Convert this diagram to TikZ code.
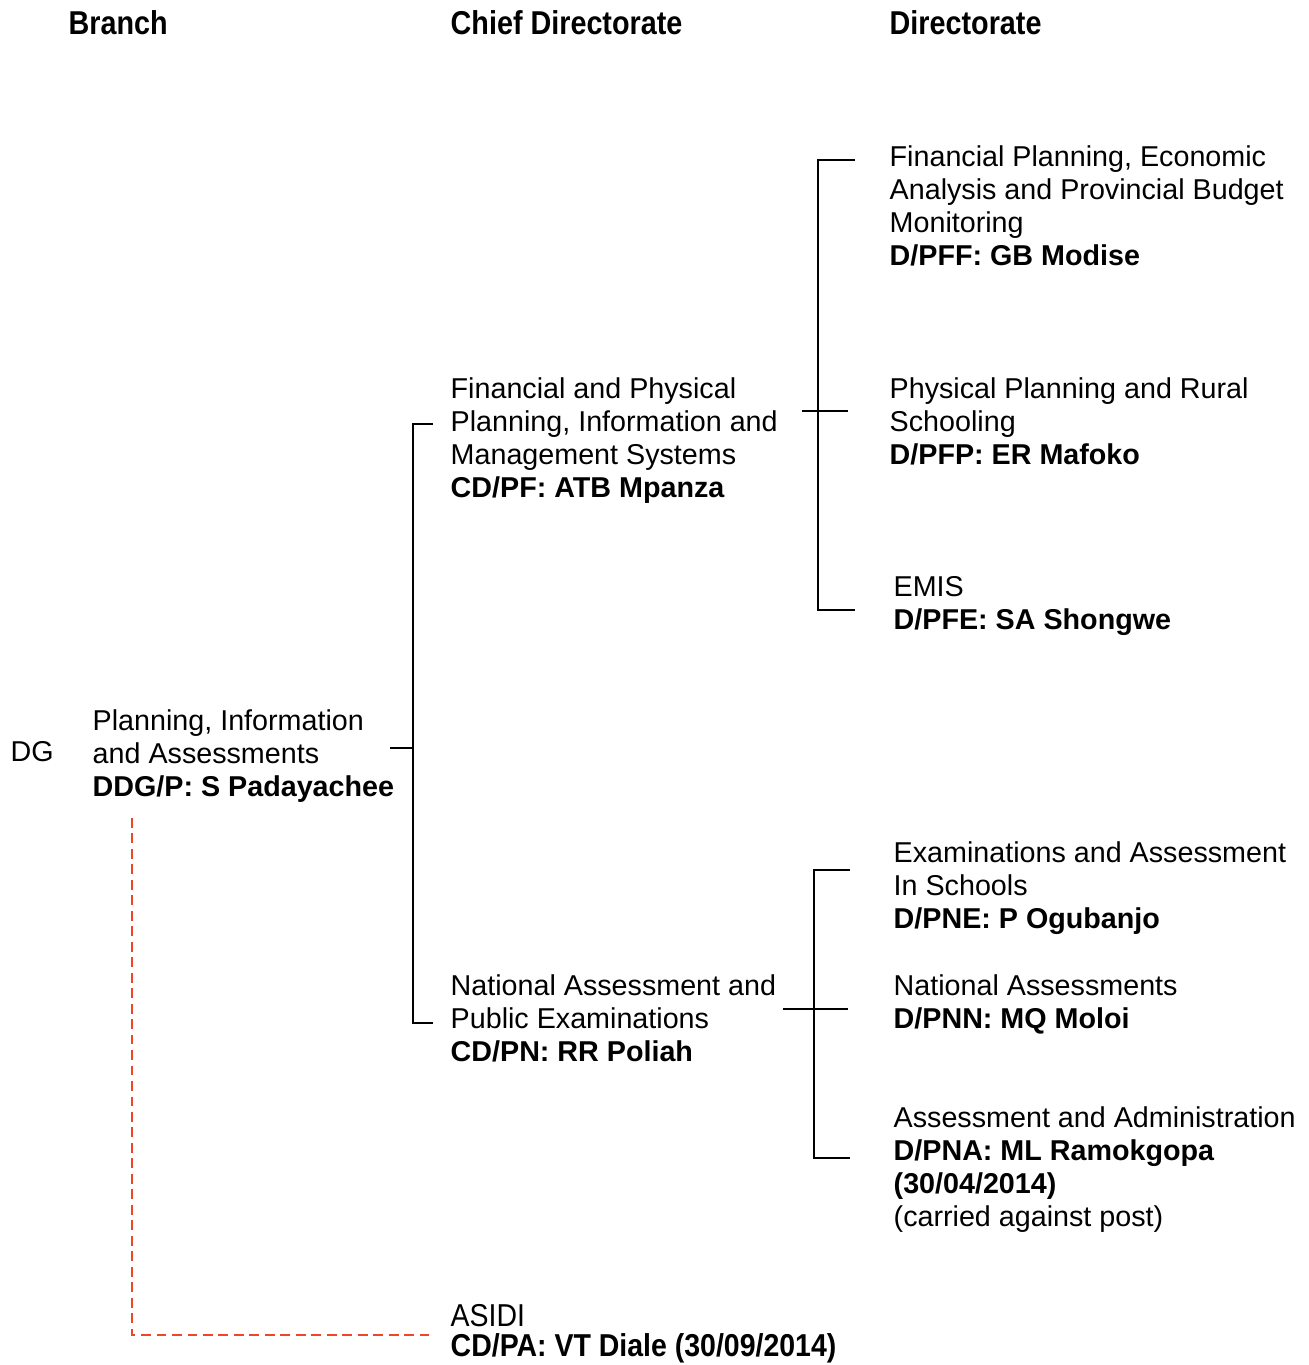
\documentclass[tikz,border=0pt]{standalone}
\usepackage{fontspec}
\setmainfont{Liberation Sans}
\newfontfamily\narrowfont{Liberation Sans}[FakeStretch=0.87]
\newfontfamily\asidifont{Liberation Sans}[FakeStretch=0.9]
\begin{document}
\begin{tikzpicture}[x = .01cm, y = -.01cm,
		unit/.style = {anchor = north west, inner sep = 0, align = left, font = \fontsize{8.16pt}{9.4pt}\selectfont},
		head/.style = {anchor = north west, inner sep = 0, font = \narrowfont\bfseries\fontsize{9.4pt}{9.4pt}\selectfont},
		link/.style = {line width = .6pt, black},
		dashlink/.style = {line width = .6pt, color = {rgb,255:red,240;green,70;blue,40}, dash pattern = on 2.8pt off 1.6pt}]
	\useasboundingbox (0,0) rectangle (1309,1365);
	\node[head] (hbr) at (68,10) {Branch};
	\node[head] (hcd) at (450,10) {Chief Directorate};
	\node[head] (hd) at (889,10) {Directorate};
	\node[unit] (dg) at (10,741) {DG};
	\node[unit] (pia) at (92,709) {Planning, Information\\and Assessments\\\textbf{DDG/P: S Padayachee}};
	\node[unit] (cdpf) at (450,377) {Financial and Physical\\Planning, Information and\\Management Systems\\\textbf{CD/PF: ATB Mpanza}};
	\node[unit] (cdpn) at (450,974) {National Assessment and\\Public Examinations\\\textbf{CD/PN: RR Poliah}};
	\node[unit, font = \asidifont\fontsize{9pt}{8.5pt}\selectfont] (asidi) at (450,1304) {ASIDI\\\textbf{CD/PA: VT Diale (30/09/2014)}};
	\node[unit] (dpff) at (889,145) {Financial Planning, Economic\\Analysis and Provincial Budget\\Monitoring\\\textbf{D/PFF: GB Modise}};
	\node[unit] (dpfp) at (889,377) {Physical Planning and Rural\\Schooling\\\textbf{D/PFP: ER Mafoko}};
	\node[unit] (dpfe) at (893,576) {EMIS\\\textbf{D/PFE: SA Shongwe}};
	\node[unit] (dpne) at (893,841) {Examinations and Assessment\\In Schools\\\textbf{D/PNE: P Ogubanjo}};
	\node[unit] (dpnn) at (893,974) {National Assessments\\\textbf{D/PNN: MQ Moloi}};
	\node[unit] (dpna) at (893,1106) {Assessment and Administration\\\textbf{D/PNA: ML Ramokgopa}\\\textbf{(30/04/2014)}\\(carried against post)};
	\draw[link] ([shift={(-5,39)}]pia.north east) -- ++(23,0) coordinate (spb); %branch to chief directorates
	\draw[link] ([shift={(-17,47)}]cdpf.north west) -| (spb) |- ([shift={(-17,49)}]cdpn.north west);
	\draw[link] ([shift={(24,34)}]cdpf.north east) -- ([shift={(-41,34)}]dpfp.north west); %CD/PF to directorates
	\draw[link] ([shift={(-34,15)}]dpff.north west) -- ++(-37,0) |- ([shift={(-38,34)}]dpfe.north west);
	\draw[link] ([shift={(6,35)}]cdpn.north east) -- ([shift={(-45,35)}]dpnn.north west); %CD/PN to directorates
	\draw[link] ([shift={(-43,29)}]dpne.north west) -- ++(-36,0) |- ([shift={(-43,52)}]dpna.north west);
	\draw[dashlink] ([shift={(40,109)}]pia.north west) |- ([shift={(-18,31)}]asidi.north west); %ASIDI
\end{tikzpicture}
\end{document}
